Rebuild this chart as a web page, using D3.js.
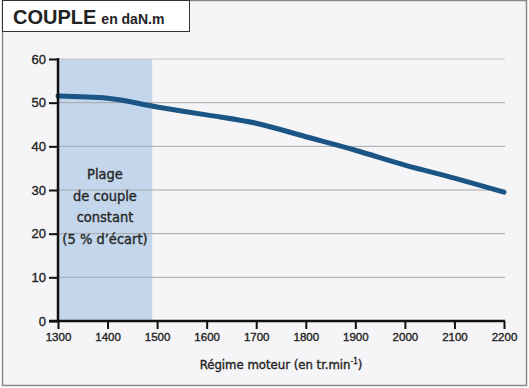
<!DOCTYPE html>
<html>
<head>
<meta charset="utf-8">
<script src="https://cdn.jsdelivr.net/npm/d3@7"></script>
<style>
  body { margin: 0; background: #fff; }
  svg { display: block; font-family: "DejaVu Sans Condensed", "DejaVu Sans", sans-serif; font-stretch: condensed; }
  .lbl { stroke: #222; stroke-width: 0.35; }
</style>
</head>
<body>
<svg id="chart" width="529" height="388"></svg>
<script>
// data
const regime = [1300, 1400, 1500, 1600, 1700, 1800, 1900, 2000, 2100, 2200];
const couple = [51.5, 51.0, 49.0, 47.2, 45.3, 42.2, 39.1, 35.7, 32.7, 29.5];
const yTicks = [0, 10, 20, 30, 40, 50, 60];
const plage = [1300, 1490];
const plageLines = ['Plage', 'de couple', 'constant', '(5 % d\u2019écart)'];

const svg = d3.select('#chart');
const width = 529, height = 388;

// frame
svg.append('rect').attr('x', 0).attr('y', 0).attr('width', width).attr('height', height).attr('fill', '#fff');
svg.append('rect')
  .attr('x', 2.5).attr('y', 0.5).attr('width', 524).attr('height', 385)
  .attr('fill', '#f5f4f6').attr('stroke', '#8a8a8c').attr('stroke-width', 1.5);

// title box
svg.append('rect')
  .attr('x', 2.5).attr('y', 0.5).attr('width', 187).attr('height', 31)
  .attr('fill', '#fff').attr('stroke', '#333').attr('stroke-width', 1);
const title = svg.append('text').attr('x', 13).attr('y', 24)
  .style('font-family', '"Liberation Sans", Arial, sans-serif').style('font-stretch', 'normal').attr('fill', '#222');
title.append('tspan').attr('font-size', 20).attr('font-weight', 'bold').text('COUPLE');
title.append('tspan').attr('dx', 5).attr('font-size', 14).attr('font-weight', 'bold').text('en daN.m');

const x = d3.scaleLinear().domain([1300, 2200]).range([58, 504]);
const y = d3.scaleLinear().domain([0, 60]).range([321, 59]);

// shaded range
svg.append('rect')
  .attr('x', x(plage[0])).attr('y', y(60))
  .attr('width', x(plage[1]) - x(plage[0])).attr('height', y(0) - y(60))
  .attr('fill', '#c3d6eb');

// grid lines
svg.append('g').selectAll('line')
  .data(yTicks.filter(d => d > 0))
  .join('line')
  .attr('x1', x(1300)).attr('x2', x(2200) + 1)
  .attr('y1', d => y(d)).attr('y2', d => y(d))
  .attr('stroke', d => d === 60 ? '#c8c8c8' : '#a8a8aa').attr('stroke-width', 1);

// annotation
const note = svg.append('text').attr('class', 'lbl')
  .attr('text-anchor', 'middle').attr('font-size', 14.5).attr('fill', '#2a2a2a');
plageLines.forEach((t, i) => {
  note.append('tspan').attr('x', 105).attr('y', 179 + i * 21.5).text(t);
});

// curve
const line = d3.line()
  .x((d, i) => x(regime[i]))
  .y(d => y(d))
  .curve(d3.curveMonotoneX);
svg.append('path')
  .datum(couple)
  .attr('d', line)
  .attr('fill', 'none')
  .attr('stroke', '#1b5585')
  .attr('stroke-width', 5)
  .attr('stroke-linecap', 'round');

// y axis
const yAxis = svg.append('g')
  .attr('transform', `translate(${x(1300)},0)`)
  .call(d3.axisLeft(y).tickValues(yTicks).tickSize(9).tickPadding(3));
yAxis.select('.domain').remove();
yAxis.selectAll('.tick line').attr('stroke', '#111').attr('stroke-width', 2);
yAxis.selectAll('.tick text').attr('class', 'lbl').attr('font-size', 13).attr('fill', '#222')
  .attr('font-family', 'inherit');
svg.append('line')
  .attr('x1', x(1300)).attr('x2', x(1300))
  .attr('y1', y(60) - 1).attr('y2', y(0) + 1)
  .attr('stroke', '#111').attr('stroke-width', 2.5);

// x axis
const xAxis = svg.append('g')
  .attr('transform', `translate(0,${y(0)})`)
  .call(d3.axisBottom(x).tickValues(regime).tickSize(8).tickPadding(4).tickFormat(d3.format('d')));
xAxis.select('.domain').remove();
xAxis.selectAll('.tick line').attr('stroke', '#111').attr('stroke-width', 2);
xAxis.selectAll('.tick text').attr('class', 'lbl').attr('font-size', 11.5).attr('fill', '#222')
  .attr('font-family', 'inherit');
svg.append('line')
  .attr('x1', x(1300) - 9).attr('x2', x(2200) + 1)
  .attr('y1', y(0)).attr('y2', y(0))
  .attr('stroke', '#111').attr('stroke-width', 2.5);

// x axis title
const xt = svg.append('text').attr('class', 'lbl')
  .attr('x', 281).attr('y', 369).attr('text-anchor', 'middle')
  .attr('font-size', 13).attr('fill', '#222');
xt.append('tspan').text('Régime moteur (en tr.min');
xt.append('tspan').attr('font-size', 8).attr('dy', -5).text('-1');
xt.append('tspan').attr('dy', 5).text(')');
</script>
</body>
</html>
